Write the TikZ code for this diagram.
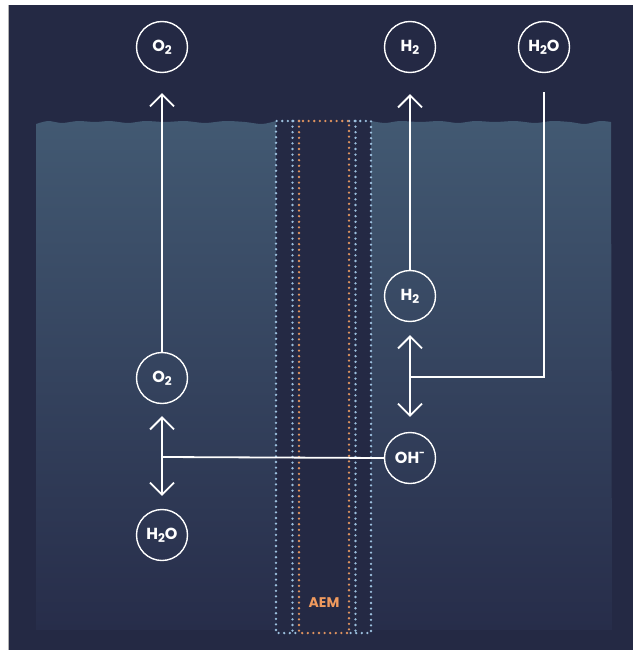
\documentclass[tikz,border=0pt]{standalone}
\usepackage{fontspec}
\setmainfont{Poppins}
\usetikzlibrary{arrows.meta}
\definecolor{bgnavy}{HTML}{242944}
\definecolor{liqtop}{HTML}{425972}
\definecolor{liqbot}{HTML}{272D4A}
\definecolor{dotblue}{HTML}{9CC0DE}
\definecolor{dotorange}{HTML}{E0935F}
\definecolor{aemorange}{HTML}{F09A5E}
\newcommand\lowidx[1]{\raisebox{-0.35ex}{\fontsize{12}{12}\selectfont #1}}
\newcommand\upidx[1]{\raisebox{0.85ex}{\fontsize{10}{10}\selectfont #1}}
\begin{document}
\begin{tikzpicture}[x=1pt,y=-1pt,
  chem/.style={circle, draw=white, line width=1.4pt, minimum size=51pt, inner sep=0pt, text=white, font=\fontsize{16}{17}\selectfont\bfseries},
  flow/.style={draw=white, line width=1.8pt},
  tipend/.style={-{Straight Barb[length=12pt,width=24pt]}},
  tipboth/.style={{Straight Barb[length=12pt,width=24pt]}-{Straight Barb[length=12pt,width=24pt]}},
  dotsb/.style={draw=dotblue, line width=2.6pt, line cap=round, dash pattern=on 0pt off 5.6pt},
  dotso/.style={draw=dotorange, line width=2.6pt, line cap=round, dash pattern=on 0pt off 5.6pt}]
\useasboundingbox (0,0) rectangle (633,650);
\fill[white] (0,0) rectangle (633,650);
\fill[bgnavy] (8,5) rectangle (633,650);
\draw[gray!60, line width=0.8pt] (8.4,5) -- (8.4,650);
% liquid, left part
\shade[top color=liqtop, bottom color=liqbot]
  (36,630) -- plot[smooth] coordinates {(36,124) (48,121) (62,123) (78,121) (95,122) (110,121) (128,123) (145,121) (165,122) (185,121) (205,123) (225,121) (245,122) (262,124) (276,121)} -- (276,630) -- cycle;
% liquid, right part
\shade[top color=liqtop, bottom color=liqbot]
  (371,630) -- plot[smooth] coordinates {(371,121) (385,123) (400,121) (420,122) (440,121) (458,123) (475,121) (495,122) (515,121) (535,123) (552,121) (570,122) (585,124) (600,121) (611,122)} -- (612,630) -- cycle;
% membrane
\draw[dotsb] (299,121) -- (276,121) -- (276,633) -- (299,633);
\draw[dotsb] (349,121) -- (371,121) -- (371,633) -- (349,633);
\draw[dotsb] (292.5,121) -- (292.5,633);
\draw[dotsb] (355.5,121) -- (355.5,633);
\draw[dotso] (299,121) rectangle (349,633);
\node[text=aemorange, font=\fontsize{14}{15}\selectfont\bfseries] (aem) at (324,603) {AEM};
% species
\node[chem] (o2t) at (162,47) {O\lowidx{2}};
\node[chem] (h2t) at (410,47) {H\lowidx{2}};
\node[chem] (h2ot) at (544,47) {H\lowidx{2}O};
\node[chem] (h2m) at (410,296) {H\lowidx{2}};
\node[chem] (oh) at (410,458) {OH\upidx{-}};
\node[chem] (o2m) at (162,378) {O\lowidx{2}};
\node[chem] (h2ob) at (162,535) {H\lowidx{2}O};
\coordinate (jr) at (410,377);
\coordinate (jl) at (162,457);
% connectors
\draw[flow, tipend, shorten >=20pt] (o2m.north) -- (o2t.south);
\draw[flow, tipend, shorten >=21pt] (h2m.north) -- (h2t.south);
\draw[flow, tipboth, shorten <=13pt, shorten >=15pt] (h2m.south) -- (oh.north);
\draw[flow, tipboth, shorten <=12pt, shorten >=13pt] (o2m.south) -- (h2ob.north);
\draw[flow, shorten <=19pt] (h2ot.south) |- (jr);
\draw[flow] (oh.west) -- (jl);
\end{tikzpicture}
\end{document}
